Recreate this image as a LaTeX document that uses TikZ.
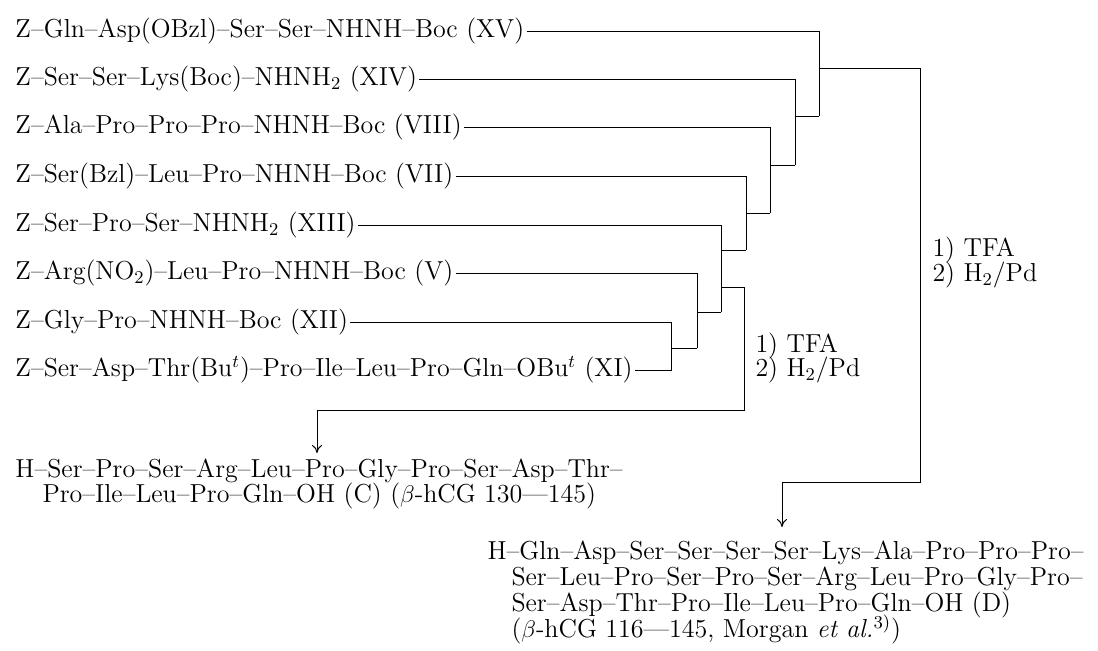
\documentclass[tikz,border=0pt]{standalone}
\usepackage{fontspec}
\usetikzlibrary{arrows.meta}
\begin{document}
\begin{tikzpicture}[x=0.5pt,y=-0.5pt,line width=0.5pt,
  every node/.style={inner sep=0pt,inner xsep=1pt,font=\fontsize{13}{15}\selectfont,
    text height=9.75pt,text depth=3.25pt,anchor=west},
  prod/.style={text height=9pt,text depth=2.8pt},
  arr/.style={-{To[length=4pt,width=5pt]}}]
\useasboundingbox (0,0) rectangle (1098,650);
% starting materials
\node (xv)   at (13,31)  {Z--Gln--Asp(OBzl)--Ser--Ser--NHNH--Boc (XV)};
\node (xiv)  at (13,79)  {Z--Ser--Ser--Lys(Boc)--NHNH$_2$ (XIV)};
\node (viii) at (13,127) {Z--Ala--Pro--Pro--Pro--NHNH--Boc (VIII)};
\node (vii)  at (13,176) {Z--Ser(Bzl)--Leu--Pro--NHNH--Boc (VII)};
\node (xiii) at (13,225) {Z--Ser--Pro--Ser--NHNH$_2$ (XIII)};
\node (v)    at (13,273) {Z--Arg(NO$_2$)--Leu--Pro--NHNH--Boc (V)};
\node (xii)  at (13,322) {Z--Gly--Pro--NHNH--Boc (XII)};
\node (xi)   at (13,370) {Z--Ser--Asp--Thr(Bu$^t$)--Pro--Ile--Leu--Pro--Gln--OBu$^t$ (XI)};
% coupling brackets
\coordinate (k1) at (671,348);
\coordinate (k2) at (697,312);
\coordinate (k3) at (721,250);
\coordinate (k3b) at (721,287);
\coordinate (k4) at (746,213);
\coordinate (k5) at (770,165);
\coordinate (k6) at (795,116);
\coordinate (k7) at (819,68);
\draw (xii.east) -- (671,322) -- (671,370) -- (xi.east);
\draw (k1) -- (697,348);
\draw (v.east) -- (697,273) -- (697,348);
\draw (k2) -- (721,312);
\draw (xiii.east) -- (721,225) -- (721,312);
\draw (k3) -- (746,250);
\draw (vii.east) -- (746,176) -- (746,250);
\draw (k4) -- (770,213);
\draw (viii.east) -- (770,127) -- (770,213);
\draw (k5) -- (795,165);
\draw (xiv.east) -- (795,79) -- (795,165);
\draw (k6) -- (819,116);
\draw (xv.east) -- (819,31) -- (819,116);
% deprotection arrows
\coordinate (tipC) at (317,453);
\coordinate (tipD) at (782,527);
\draw[arr] (k3b) -- (744,287) -- (744,410) -- (317,410) -- (tipC);
\draw[arr] (k7) -- (920,68) -- (920,482) -- (782,482) -- (tipD);
\node (l1) at (753,346) {1) TFA};
\node (l2) at (753,370) {2) H$_2$/Pd};
\node (r1) at (930,250) {1) TFA};
\node (r2) at (930,275) {2) H$_2$/Pd};
% products
\node[prod] (c1) at (13,471) {H--Ser--Pro--Ser--Arg--Leu--Pro--Gly--Pro--Ser--Asp--Thr--};
\node[prod] (c2) at (40,496) {Pro--Ile--Leu--Pro--Gln--OH (C) ($\beta$-hCG 130---145)};
\node[prod] (d1) at (485,553) {H--Gln--Asp--Ser--Ser--Ser--Ser--Lys--Ala--Pro--Pro--Pro--};
\node[prod] (d2) at (509,579) {Ser--Leu--Pro--Ser--Pro--Ser--Arg--Leu--Pro--Gly--Pro--};
\node[prod] (d3) at (509,605) {Ser--Asp--Thr--Pro--Ile--Leu--Pro--Gln--OH (D)};
\node[prod] (d4) at (509,631) {($\beta$-hCG 116---145, Morgan \textit{et al.}\textsuperscript{3)})};
\end{tikzpicture}
\end{document}
